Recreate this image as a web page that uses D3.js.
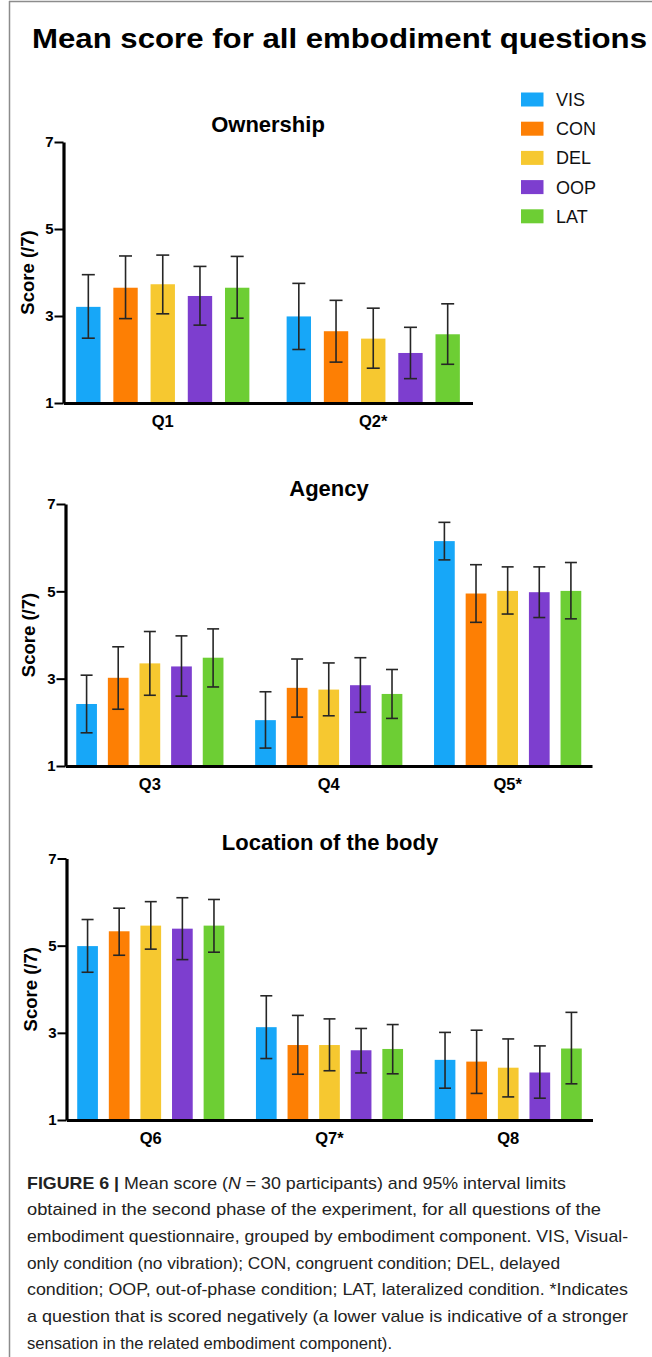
<!DOCTYPE html>
<html>
<head>
<meta charset="utf-8">
<script src="https://cdn.jsdelivr.net/npm/d3@7"></script>
<style>
  html, body { margin: 0; padding: 0; background: #fff; }
  svg { display: block; }
</style>
</head>
<body>
<svg id="fig" width="652" height="1357"></svg>
<script>
// Conditions and their colours
const conditions = ["VIS", "CON", "DEL", "OOP", "LAT"];
const conditionColors = ["#17a7f8", "#fd7f04", "#f6c830", "#7d3ecf", "#6dce34"];

// Y ticks shared by all panels (7-point scale)
const yTicks = [1, 3, 5, 7];

// Panel titles
const panelTitles = ["Ownership", "Agency", "Location of the body"];

// Ownership
const ownershipQuestions = ["Q1", "Q2*"];
const ownershipMeans = [[3.21, 3.65, 3.73, 3.46, 3.65], [2.99, 2.65, 2.48, 2.15, 2.58]];
const ownershipLower = [[2.49, 2.94, 3.05, 2.79, 2.95], [2.23, 1.94, 1.80, 1.56, 1.89]];
const ownershipUpper = [[3.95, 4.38, 4.40, 4.14, 4.37], [3.75, 3.36, 3.18, 2.74, 3.28]];

// Agency
const agencyQuestions = ["Q3", "Q4", "Q5*"];
const agencyMeans = [[2.42, 3.02, 3.35, 3.28, 3.48], [2.05, 2.79, 2.75, 2.85, 2.65], [6.15, 4.95, 5.01, 4.98, 5.01]];
const agencyLower = [[1.76, 2.30, 2.62, 2.60, 2.81], [1.41, 2.12, 2.15, 2.23, 2.09], [5.72, 4.29, 4.48, 4.40, 4.37]];
const agencyUpper = [[3.08, 3.73, 4.08, 3.98, 4.14], [2.70, 3.45, 3.36, 3.48, 3.21], [6.58, 5.61, 5.56, 5.56, 5.66]];

// Location of the body
const locationQuestions = ["Q6", "Q7*", "Q8"];
const locationMeans = [[4.99, 5.33, 5.46, 5.39, 5.46], [3.13, 2.72, 2.72, 2.60, 2.63], [2.38, 2.34, 2.20, 2.09, 2.64]];
const locationLower = [[4.39, 4.78, 4.92, 4.68, 4.85], [2.41, 2.05, 2.13, 2.08, 2.06], [1.73, 1.61, 1.53, 1.50, 1.83]];
const locationUpper = [[5.60, 5.86, 6.01, 6.10, 6.06], [3.85, 3.40, 3.32, 3.10, 3.19], [3.01, 3.06, 2.86, 2.70, 3.47]];

// Caption lines
const captionLines = [
  "Mean score (N = 30 participants) and 95% interval limits",
  "obtained in the second phase of the experiment, for all questions of the",
  "embodiment questionnaire, grouped by embodiment component. VIS, Visual-",
  "only condition (no vibration); CON, congruent condition; DEL, delayed",
  "condition; OOP, out-of-phase condition; LAT, lateralized condition. *Indicates",
  "a question that is scored negatively (a lower value is indicative of a stronger",
  "sensation in the related embodiment component)."
];

const panelData = [
  { questions: ownershipQuestions, means: ownershipMeans, lower: ownershipLower, upper: ownershipUpper },
  { questions: agencyQuestions, means: agencyMeans, lower: agencyLower, upper: agencyUpper },
  { questions: locationQuestions, means: locationMeans, lower: locationLower, upper: locationUpper }
];

// Panel geometry (pixels)
const panelLayout = [
  { top: 142, bottom: 403, left: 63.5, right: 472.5, titleX: 268, titleY: 132, yTitleX: 28, capW: 13 },
  { top: 504, bottom: 766, left: 65.5, right: 592, titleX: 329, titleY: 496, yTitleX: 29, capW: 12 },
  { top: 858.5, bottom: 1120, left: 66.5, right: 592.5, titleX: 330, titleY: 850, yTitleX: 31, capW: 12 }
];

const svg = d3.select("#fig");
const FONT = "'Liberation Sans', Arial, Helvetica, sans-serif";

// frame lines
svg.append("line").attr("x1", 9).attr("x2", 652).attr("y1", 1.5).attr("y2", 1.5)
  .attr("stroke", "#8c8c8c").attr("stroke-width", 1.5);
svg.append("line").attr("x1", 9.5).attr("x2", 9.5).attr("y1", 1).attr("y2", 1357)
  .attr("stroke", "#8c8c8c").attr("stroke-width", 1.5);

// main title
svg.append("text")
  .attr("x", 32).attr("y", 48)
  .attr("font-family", FONT).attr("font-weight", "bold").attr("font-size", 28)
  .attr("textLength", 615).attr("lengthAdjust", "spacingAndGlyphs")
  .attr("fill", "#000")
  .text("Mean score for all embodiment questions");

// legend
const legend = svg.append("g").attr("transform", "translate(521,99.5)");
conditions.forEach((c, i) => {
  const g = legend.append("g").attr("transform", `translate(0,${i * 29.2})`);
  g.append("rect").attr("x", 0).attr("y", -7).attr("width", 22.5).attr("height", 14)
    .attr("fill", conditionColors[i]);
  g.append("text").attr("x", 35).attr("y", 6.5)
    .attr("font-family", FONT).attr("font-size", 18).attr("fill", "#111")
    .text(c);
});

const color = d3.scaleOrdinal().domain(conditions).range(conditionColors);

panelData.forEach((pd, pi) => {
  const L = panelLayout[pi];
  const g = svg.append("g");

  const y = d3.scaleLinear().domain([1, 7]).range([L.bottom, L.top]);
  const x0 = d3.scaleBand().domain(pd.questions).range([L.left, L.right])
    .paddingInner(0.177).paddingOuter(0.06);
  const x1 = d3.scaleBand().domain(conditions).range([0, x0.bandwidth()])
    .paddingInner(0.345).paddingOuter(0);

  // panel title
  g.append("text").attr("x", L.titleX).attr("y", L.titleY)
    .attr("text-anchor", "middle")
    .attr("font-family", FONT).attr("font-weight", "bold").attr("font-size", 22)
    .text(panelTitles[pi]);

  // bars
  const rows = [];
  pd.questions.forEach((q, qi) => {
    conditions.forEach((c, ci) => {
      rows.push({ q, c, mean: pd.means[qi][ci], lo: pd.lower[qi][ci], hi: pd.upper[qi][ci] });
    });
  });

  g.append("g").selectAll("rect").data(rows).join("rect")
    .attr("x", d => x0(d.q) + x1(d.c))
    .attr("y", d => y(d.mean))
    .attr("width", x1.bandwidth())
    .attr("height", d => y(1) - y(d.mean))
    .attr("fill", d => color(d.c));

  // error bars
  const eb = g.append("g").attr("stroke", "#262626").attr("stroke-width", 1.6).attr("fill", "none");
  rows.forEach(d => {
    const cx = x0(d.q) + x1(d.c) + x1.bandwidth() / 2;
    eb.append("line").attr("x1", cx).attr("x2", cx).attr("y1", y(d.hi)).attr("y2", y(d.lo));
    eb.append("line").attr("x1", cx - L.capW / 2).attr("x2", cx + L.capW / 2).attr("y1", y(d.hi)).attr("y2", y(d.hi));
    eb.append("line").attr("x1", cx - L.capW / 2).attr("x2", cx + L.capW / 2).attr("y1", y(d.lo)).attr("y2", y(d.lo));
  });

  // x axis
  const xAxis = g.append("g").attr("transform", `translate(0,${L.bottom})`)
    .call(d3.axisBottom(x0).tickSize(0).tickSizeOuter(0).tickPadding(12.5));
  xAxis.select(".domain").attr("stroke", "#000").attr("stroke-width", 3.2);
  xAxis.selectAll("text").attr("font-family", FONT).attr("font-weight", "bold")
    .attr("font-size", 16.5).attr("fill", "#000");

  // y axis
  const yAxis = g.append("g").attr("transform", `translate(${L.left},0)`)
    .call(d3.axisLeft(y).tickValues(yTicks).tickFormat(d3.format("d"))
      .tickSize(9).tickSizeOuter(0).tickPadding(1));
  yAxis.select(".domain").attr("stroke", "#000").attr("stroke-width", 3.2);
  yAxis.selectAll(".tick line").attr("stroke", "#000").attr("stroke-width", 2);
  yAxis.selectAll("text").attr("font-family", FONT).attr("font-weight", "bold")
    .attr("font-size", 15).attr("fill", "#000");

  // y title
  g.append("text")
    .attr("transform", `translate(${L.yTitleX + 6},${(L.top + L.bottom) / 2}) rotate(-90)`)
    .attr("text-anchor", "middle")
    .attr("font-family", FONT).attr("font-weight", "bold").attr("font-size", 18.5)
    .text("Score (/7)");
});

// caption
const capEnds = [566, 601, 628, 560, 628, 628, 392];
const capX = 27, capY0 = 1188.5, capStep = 26.7;
captionLines.forEach((line, i) => {
  const t = svg.append("text")
    .attr("x", capX).attr("y", capY0 + i * capStep)
    .attr("font-family", FONT).attr("font-size", 17).attr("fill", "#222")
    .attr("textLength", capEnds[i] - capX).attr("lengthAdjust", "spacingAndGlyphs");
  if (i === 0) {
    t.append("tspan").attr("font-weight", "bold").text("FIGURE 6 | ");
    t.append("tspan").text("Mean score (");
    t.append("tspan").attr("font-style", "italic").text("N");
    t.append("tspan").text(" = 30 participants) and 95% interval limits");
  } else {
    t.text(line);
  }
});
</script>
</body>
</html>
